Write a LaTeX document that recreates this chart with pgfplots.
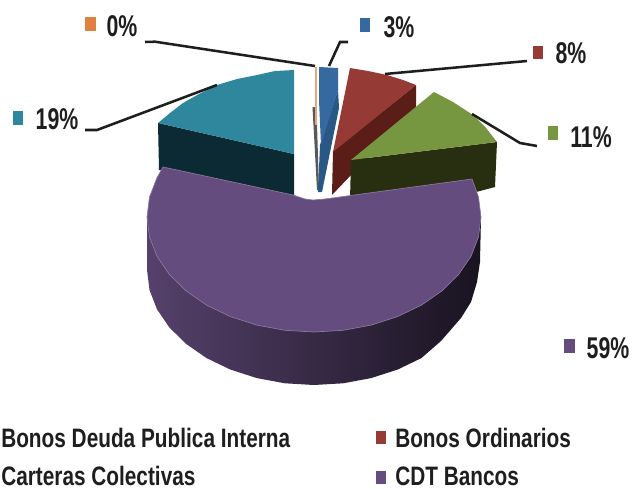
\documentclass[border=0pt]{standalone}
\usepackage{fontspec}
\setmainfont[FakeStretch=0.78]{Liberation Sans}
\newfontfamily\pctfont[FakeStretch=0.71]{Liberation Sans}
\usepackage{pgfplots}
\pgfplotsset{compat=1.18}

\definecolor{azul}{HTML}{35699F}
\definecolor{azulosc}{HTML}{2A5885}
\definecolor{rojo}{HTML}{953A35}
\definecolor{rojoosc}{HTML}{5A1D18}
\definecolor{verde}{HTML}{76963F}
\definecolor{verdeosc}{HTML}{282F10}
\definecolor{morado}{HTML}{644C7E}
\definecolor{teal1}{HTML}{2F879E}
\definecolor{tealosc}{HTML}{0C2A33}
\definecolor{naranja}{HTML}{DE8140}
\definecolor{texto}{HTML}{1E1E1E}

\tikzset{
    pct/.style={font=\pctfont\bfseries\fontsize{22.5}{24}\selectfont, text=texto, inner sep=0pt},
    leg/.style={font=\bfseries\fontsize{20}{22}\selectfont, text=texto, inner sep=0pt, anchor=west},
}

\begin{document}
\begin{tikzpicture}
\path[use as bounding box, clip] (0,0) rectangle (474pt,366.75pt);
\begin{axis}[
    scale only axis, width=474pt, height=366.75pt,
    xmin=0, xmax=632, ymin=0, ymax=489,
    y dir=reverse, hide axis, clip=false,
]
% Carteras colectivas 19% (lado, cara)
\addplot[fill=tealosc, draw=none] coordinates {(158,123) (159,170) (294,196) (294,154)} -- cycle;
\addplot[fill=teal1, draw=none] coordinates {(294,70) (275,71) (257,75) (237,79) (217,85) (199,94) (183,103) (170,113) (158,123) (294,154)} -- cycle;

% 0%
\addplot[fill=gray!70!black, draw=none] coordinates {(312.5,107) (316.5,107) (319,190) (317,190)} -- cycle;
\addplot[fill=naranja!70!white, draw=none] coordinates {(314.5,67) (316.5,67) (316.5,125) (314.5,125)} -- cycle;

% 3%
\addplot[fill=azulosc, draw=none] coordinates {(338,90) (339,108) (322,192) (318,192) (320,145)} -- cycle;
\addplot[fill=azul, draw=none] coordinates {(319,67) (338,68) (338,90) (321,145) (319,100)} -- cycle;

% 8%
\addplot[fill=rojoosc, draw=none] coordinates {(416,85) (416,107) (332,195) (333,151)} -- cycle;
\addplot[fill=rojo, draw=none] coordinates {(350,68) (368,71) (387,75) (403,80) (416,85) (333,152)} -- cycle;

% 11%
\addplot[fill=verdeosc, draw=none] coordinates {(497,142) (495,187) (465,195) (350,200) (351,160)} -- cycle;
\addplot[fill=verde, draw=none] coordinates {(434,92) (453,102) (473,115) (486,128) (497,142) (351,160)} -- cycle;

% CDT Bancos 59% (lado con degradado, cara)
\addplot[left color=morado!85!black, middle color=morado!50!black, right color=morado!25!black, draw=none] coordinates {
    (147,217) (147,270) (149.5,290) (157,309.3) (169.4,327.5) (186.1,343.9) (206.6,358.1) (230.5,369.6)
    (256.9,378.1) (284.9,383.3) (314,385) (343.1,383.3) (371.1,378.1) (397.5,369.6) (421.4,358.1)
    (441,341) (461,318) (471,302) (477,282) (480,262) (481,217)} -- cycle;
\addplot[fill=morado, draw=morado!75!white, line width=0.5pt] coordinates {
    (163,167) (293,195) (305,199) (313,200) (325,199) (472,179) (478.5,197) (481,217) (478.5,237)
    (471,256.3) (458.6,274.5) (441.9,290.9) (421.4,305.1) (397.5,316.6) (371.1,325.1) (343.1,330.3)
    (314,332) (284.9,330.3) (256.9,325.1) (230.5,316.6) (206.6,305.1) (186.1,290.9) (169.4,274.5)
    (157,256.3) (149.5,237) (147,217) (149.5,197) (157,177.7)} -- cycle;

% lineas guia
\addplot[line width=1.9pt, texto] coordinates {(145,42) (155,41.7) (315,66)};
\addplot[line width=1.9pt, texto] coordinates {(85,130) (97,130) (217,85)};
\addplot[line width=1.9pt, texto] coordinates {(348,42) (340,42) (329,66)};
\addplot[line width=1.9pt, texto] coordinates {(385,74) (527,61)};
\addplot[line width=1.9pt, texto] coordinates {(472,114) (520,143) (537,146)};

% marcadores de leyenda
\addplot[fill=naranja, draw=none] coordinates {(85,17) (96,17) (96,31) (85,31)} -- cycle;
\addplot[fill=azul, draw=none] coordinates {(360,18) (370,18) (370,32) (360,32)} -- cycle;
\addplot[fill=rojo, draw=none] coordinates {(533,46) (543,46) (543,59) (533,59)} -- cycle;
\addplot[fill=verde, draw=none] coordinates {(548,126) (558,126) (558,140) (548,140)} -- cycle;
\addplot[fill=teal1, draw=none] coordinates {(13,111) (23,111) (23,125) (13,125)} -- cycle;
\addplot[fill=morado, draw=none] coordinates {(564,339) (575,339) (575,353) (564,353)} -- cycle;
\addplot[fill=rojo, draw=none] coordinates {(376,431) (386,431) (386,444) (376,444)} -- cycle;
\addplot[fill=morado, draw=none] coordinates {(376,471) (386,471) (386,484) (376,484)} -- cycle;

% porcentajes
\node[pct] at (axis cs:122,26) {0\%};
\node[pct] at (axis cs:399,27) {3\%};
\node[pct] at (axis cs:571,53) {8\%};
\node[pct] at (axis cs:591,137) {11\%};
\node[pct] at (axis cs:57,119) {19\%};
\node[pct] at (axis cs:608,348) {59\%};

% leyenda
\node[leg] at (axis cs:1,438) {Bonos Deuda Publica Interna};
\node[leg] at (axis cs:395,438) {Bonos Ordinarios};
\node[leg] at (axis cs:1,476) {Carteras Colectivas};
\node[leg] at (axis cs:395,476) {CDT Bancos};
\end{axis}
\end{tikzpicture}
\end{document}
